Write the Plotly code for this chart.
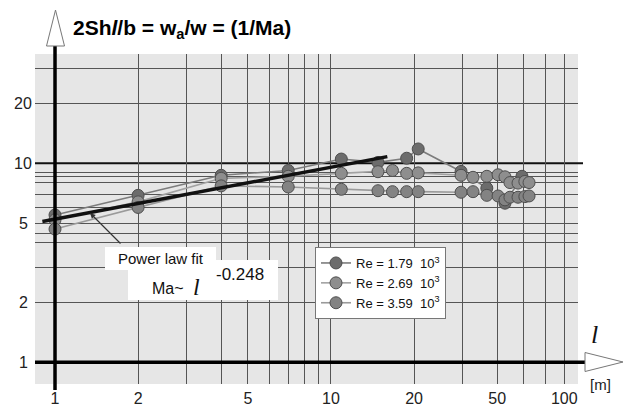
import math
import plotly.graph_objects as go

# ---------------- data ----------------
re_179_x = [1, 2, 4, 7, 10.9, 14.8, 18.8, 20.7, 29.6, 36.7, 42.7, 49.2]
re_179_y = [5.5, 6.9, 8.7, 9.2, 10.5, 10.1, 10.6, 11.8, 9.1, 7.5, 6.3, 8.6]

re_269_x = [1, 2, 4, 7, 10.9, 14.8, 16.7, 18.8, 20.7, 29.6, 32.7, 36.7, 40.3, 42.7, 44.5, 47.6, 50.4, 52.2]
re_269_y = [5.2, 6.4, 8.4, 8.6, 8.9, 9.07, 9.2, 8.9, 8.95, 8.7, 8.5, 8.6, 8.75, 8.55, 8.0, 7.95, 8.1, 8.0]

re_359_x = [1, 2, 4, 7, 10.9, 14.8, 16.7, 18.8, 20.7, 29.6, 32.7, 36.7, 40.3, 42.7, 44.5, 47.6, 50.4, 52.2]
re_359_y = [4.67, 6.0, 7.7, 7.6, 7.4, 7.28, 7.2, 7.2, 7.2, 7.15, 7.2, 6.9, 6.85, 6.55, 6.75, 6.75, 6.8, 6.85]

fit_x = [0.9, 16]
fit_y = [5.1, 10.8]

series_names = ["Re = 1.79 \u00a010<sup>3</sup>", "Re = 2.69 \u00a010<sup>3</sup>", "Re = 3.59 \u00a010<sup>3</sup>"]

x_grid = [1, 2, 3, 4, 5, 6, 7, 8, 9, 10, 20, 30, 40, 50, 60, 70]
x_tick_vals = [1, 2, 5, 10, 20, 40, 70]
x_tick_text = ["1", "2", "5", "10", "20", "50", "100"]

y_grid = [2, 3, 4, 4.45, 5, 6, 7, 8, 8.6, 9, 20, 30]
y_tick_vals = [1, 2, 5, 10, 20]
y_tick_text = ["1", "2", "5", "10", "20"]

# ---------------- layout geometry ----------------
W, H = 626, 408
ML, MR, MT, MB = 35, 48, 54, 24
XR = [-0.0725, 1.895]
YR = [-0.109, 1.549]
PW, PH = W - ML - MR, H - MT - MB


def px(p):
    return (p - ML) / PW


def py(p):
    return (H - MB - p) / PH


def fx(v):
    return (math.log10(v) - XR[0]) / (XR[1] - XR[0])


def fy(v):
    return (math.log10(v) - YR[0]) / (YR[1] - YR[0])


FONT = "Liberation Sans, Arial, sans-serif"
SERIF = "Liberation Serif, Times New Roman, serif"

fig = go.Figure()

styles = [
    ("#6c6c6c", "#7c7c7c"),
    ("#8e8e8e", "#a2a2a2"),
    ("#838383", "#9a9a9a"),
]
for (xs, ys), name, (mc, lc) in zip(
    [(re_179_x, re_179_y), (re_269_x, re_269_y), (re_359_x, re_359_y)], series_names, styles
):
    fig.add_trace(
        go.Scatter(
            x=xs, y=ys, name=name, mode="lines+markers",
            line=dict(color=lc, width=1.6),
            marker=dict(size=12, color=mc, line=dict(color="#4e4e4e", width=1)),
        )
    )

fig.add_trace(
    go.Scatter(x=fit_x, y=fit_y, mode="lines", showlegend=False,
               line=dict(color="#111111", width=3.5))
)

shapes = []
# white boxes behind the fit label
shapes.append(dict(type="rect", xref="paper", yref="paper", x0=px(105), x1=px(216),
                   y0=py(270), y1=py(247), fillcolor="white", line=dict(width=0), layer="above"))
shapes.append(dict(type="rect", xref="paper", yref="paper", x0=px(128), x1=px(278),
                   y0=py(300), y1=py(260), fillcolor="white", line=dict(width=0), layer="above"))
# bold line at 10
shapes.append(dict(type="line", xref="paper", yref="paper", x0=0, x1=px(583),
                   y0=fy(10), y1=fy(10), line=dict(color="#111", width=2), layer="below"))
# x axis line with arrow
shapes.append(dict(type="line", xref="paper", yref="paper", x0=0, x1=px(586),
                   y0=fy(1), y1=fy(1), line=dict(color="#000", width=3.5)))
shapes.append(dict(type="path", xref="paper", yref="paper",
                   path=f"M {px(585)},{py(352.5)} L {px(623)},{py(362)} L {px(585)},{py(371.5)} Z",
                   fillcolor="white", line=dict(color="#777", width=1)))
# y axis line with arrow
shapes.append(dict(type="line", xref="paper", yref="paper", x0=fx(1), x1=fx(1),
                   y0=py(390), y1=py(46), line=dict(color="#000", width=3.5)))
shapes.append(dict(type="path", xref="paper", yref="paper",
                   path=f"M {px(46.5)},{py(46)} L {px(55.5)},{py(10)} L {px(64.5)},{py(46)} Z",
                   fillcolor="white", line=dict(color="#777", width=1)))


def note(x, y, text, size, xanchor="center", yanchor="middle", family=FONT, color="#111", yref="paper"):
    return dict(xref="paper", yref=yref, x=px(x), y=y,
                xanchor=xanchor, yanchor=yanchor, text=text, showarrow=False,
                font=dict(family=family, size=size, color=color))


annotations = []
annotations.append(note(71, py(29), "<b>2Sh<i>l</i>/b = w<sub>a</sub>/w = (1/Ma)</b>", 21,
                        xanchor="left", color="#000"))
for v, t in zip(y_tick_vals, y_tick_text):
    annotations.append(note(23, math.log10(v), t, 16, yref="y", color="#222"))
annotations.append(note(594, py(334), "<i>l</i>", 26, family=SERIF))
annotations.append(note(600, py(384), "[m]", 15, color="#222"))
annotations.append(note(161, py(258), "Power law fit", 15))
annotations.append(note(168, py(288), "Ma~", 16))
annotations.append(note(196, py(287), "<i>l</i>", 24, family=SERIF))
annotations.append(note(240, py(274), "-0.248", 17))
annotations.append(dict(xref="paper", yref="paper", x=px(90), y=py(213), ax=32, ay=32, text="",
                        showarrow=True, arrowhead=2, arrowsize=0.9, arrowwidth=1.2, arrowcolor="#333"))

fig.update_layout(
    width=W, height=H,
    margin=dict(l=ML, r=MR, t=MT, b=MB, autoexpand=False),
    paper_bgcolor="white", plot_bgcolor="#e6e6e6",
    font=dict(family=FONT, color="#222"),
    shapes=shapes, annotations=annotations,
    showlegend=True,
    legend=dict(x=px(315), y=py(247), xanchor="left", yanchor="top",
                bgcolor="white", bordercolor="#777", borderwidth=1,
                font=dict(family=FONT, size=13, color="#111"), itemwidth=30,
                tracegroupgap=0),
    xaxis=dict(type="log", range=XR, tickvals=x_grid,
               ticktext=[x_tick_text[x_tick_vals.index(v)] if v in x_tick_vals else "" for v in x_grid],
               showgrid=True, gridcolor="#555", gridwidth=1.2, zeroline=False, showline=False,
               ticks="", ticklabelstandoff=3,
               tickfont=dict(family=FONT, size=16, color="#222"), fixedrange=True),
    yaxis=dict(type="log", range=YR, tickvals=y_grid, showticklabels=False,
               showgrid=True, gridcolor="#555", gridwidth=1.2, zeroline=False, showline=False,
               ticks="", fixedrange=True),
)

fig.write_html("out.html", config={"displayModeBar": False},
               post_script="document.body.style.margin='0px';document.body.style.padding='0px';")
